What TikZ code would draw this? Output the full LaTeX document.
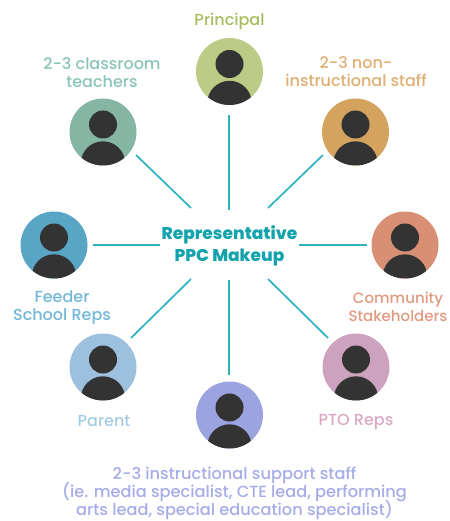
\documentclass[tikz,border=0pt]{standalone}
\usepackage{fontspec}
\setmainfont{Poppins Medium}
\normallineskiplimit=-20pt
\lineskiplimit=-20pt
\definecolor{cPrin}{HTML}{BCCB85}\definecolor{tPrin}{HTML}{A5BE5B}
\definecolor{cTeach}{HTML}{85B5A3}\definecolor{tTeach}{HTML}{8AC4B8}
\definecolor{cNon}{HTML}{D4A45F}\definecolor{tNon}{HTML}{E0AE70}
\definecolor{cCom}{HTML}{D98F73}\definecolor{tCom}{HTML}{E09A80}
\definecolor{cFeed}{HTML}{58A5C6}\definecolor{tFeed}{HTML}{72B7D8}
\definecolor{cPar}{HTML}{9DC0DF}\definecolor{tPar}{HTML}{A5CCE5}
\definecolor{cPto}{HTML}{CDA2BE}\definecolor{tPto}{HTML}{D9A8C4}
\definecolor{cSup}{HTML}{9BA3E0}\definecolor{tSup}{HTML}{A5ACE8}
\definecolor{cHub}{HTML}{13A3AD}\definecolor{cLine}{HTML}{2DB3BE}
\definecolor{cDark}{HTML}{333333}
\tikzset{
  personbox/.style={circle,minimum size=67pt,inner sep=0pt,outer sep=0pt,fill=#1},
  lab/.style={align=center,font=\fontsize{16}{18}\selectfont,text=#1,inner sep=0pt},
  link/.style={draw=cLine,line width=1.7pt},
}
\newcommand{\person}[3]{%
  \node[personbox=#3] (#1) at (#2) {};
  \begin{scope}
    \clip (#1) circle (33.5pt);
    \fill[cDark] ($(#1)+(0,31.5)$) circle (22.2pt);
  \end{scope}
  \fill[cDark] ($(#1)+(0,-7.5)$) circle (14pt);
}
\usetikzlibrary{calc}
\begin{document}
\begin{tikzpicture}[x=1pt,y=-1pt]
\useasboundingbox (0,0) rectangle (449,521);
\person{principal}{229.5,71.5}{cPrin}
\person{teachers}{103,132}{cTeach}
\person{nonstaff}{355.5,132}{cNon}
\person{feeder}{54,245}{cFeed}
\person{community}{405,245}{cCom}
\person{parent}{103,367}{cPar}
\person{pto}{356,367}{cPto}
\person{support}{229.5,415}{cSup}

\node[lab=tPrin] (lPrin) at (229.5,21.5) {Principal};
\node[lab=tTeach] (lTeach) at (102,72.5) {2-3 classroom\\teachers};
\node[lab=tNon] (lNon) at (356,72) {2-3 non-\\instructional staff};
\node[lab=tFeed] (lFeed) at (62,307.5) {Feeder\\School Reps};
\node[lab=tCom,font=\fontsize{15}{18}\selectfont] (lCom) at (398,306.5) {Community\\Stakeholders};
\node[lab=tPar] (lPar) at (104,421) {Parent};
\node[lab=tPto] (lPto) at (356,421.5) {PTO Reps};
\node[lab=tSup,font=\fontsize{16.2}{18}\selectfont] (lSup) at (234.5,493.5) {2-3 instructional support staff\\(ie. media specialist, CTE lead, performing\\arts lead, special education specialist)};
\node[align=center,font=\fontsize{17}{22}\selectfont\bfseries,text=cHub,inner sep=0pt] (hub) at (229.5,246) {Representative\\PPC Makeup};

\coordinate (hN) at (229,210);
\coordinate (hS) at (229,280);
\coordinate (oN) at (229,115);
\coordinate (oS) at (229,375);
\coordinate (hW) at (160,245);
\coordinate (hE) at (299,245);
\coordinate (hNW) at (191,208);
\coordinate (hNE) at (268,208);
\coordinate (hSW) at (191,279);
\coordinate (hSE) at (268,279);
\coordinate (oNW) at (136,155);
\coordinate (oNE) at (323,155);
\coordinate (oSW) at (131,338);
\coordinate (oSE) at (328,338);
\draw[link] (oN) -- (hN);
\draw[link] (oS) -- (hS);
\draw[link,shorten <=5pt] (feeder.east) -- (hW);
\draw[link,shorten <=5pt] (community.west) -- (hE);
\draw[link] (oNW) -- (hNW);
\draw[link] (oNE) -- (hNE);
\draw[link] (oSW) -- (hSW);
\draw[link] (oSE) -- (hSE);
\end{tikzpicture}
\end{document}
